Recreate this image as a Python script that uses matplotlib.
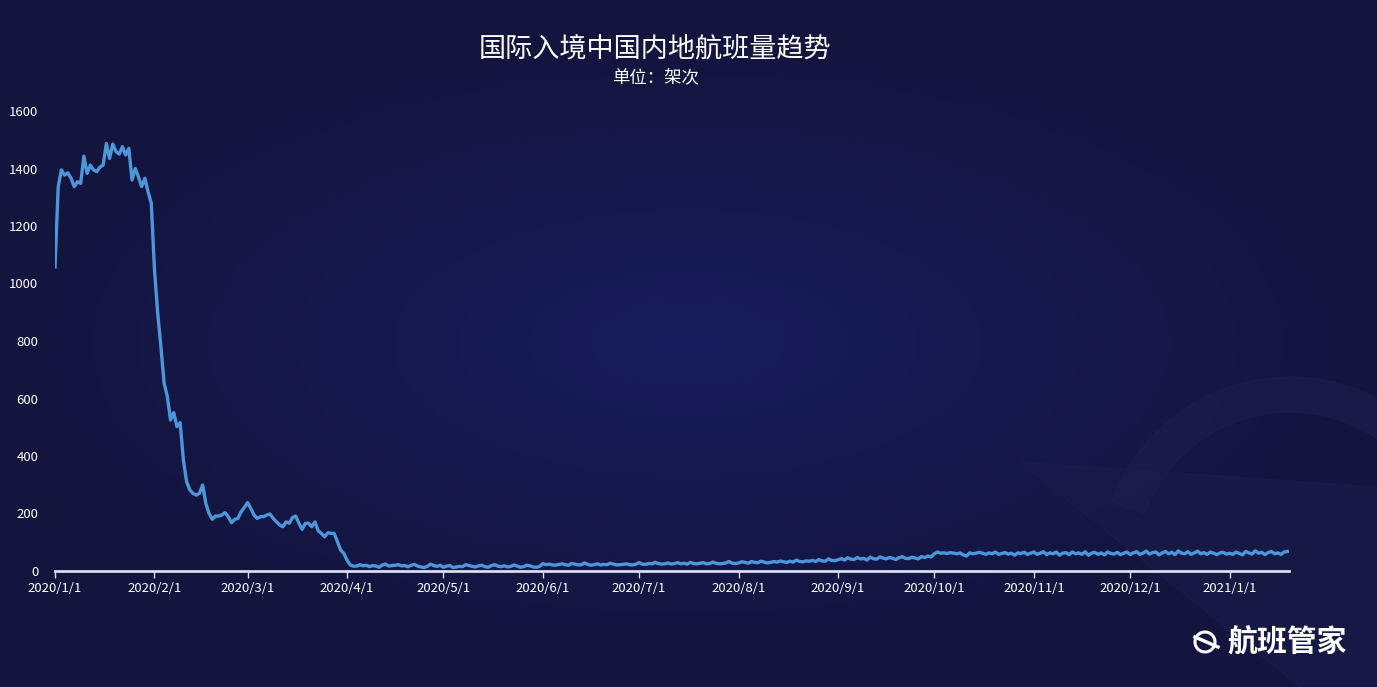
import matplotlib.pyplot as plt
import numpy as np
import pandas as pd
from matplotlib.patches import Circle, Wedge, Polygon

plt.rcParams['font.family'] = ['Noto Sans CJK SC', 'DejaVu Sans']

title = "国际入境中国内地航班量趋势"
subtitle = "单位：架次"

# daily flights, 2020/1/1 .. 2021/1/19
jan_mar = [1058, 1337, 1395, 1377, 1385, 1366, 1337, 1354, 1348, 1443,
           1383, 1412, 1395, 1389, 1405, 1412, 1487, 1435, 1485, 1459,
           1450, 1476, 1447, 1470, 1360, 1400, 1371, 1337, 1366, 1319,
           1279, 1047, 897, 780, 654, 606, 525, 551, 502, 516,
           386, 311, 282, 270, 264, 270, 299, 235, 200, 180,
           191, 191, 195, 203, 189, 168, 180, 183, 206, 221,
           238, 218, 195, 183, 189, 189, 195, 198, 183, 171,
           160, 154, 171, 166, 186, 191, 166, 145, 166, 166,
           154, 171, 140, 131, 119, 133, 131, 131, 102, 73, 61]
apr = [38, 21, 17, 17, 22, 18, 20, 15, 19, 17, 13, 21, 24, 17, 19,
       20, 22, 18, 19, 15, 20, 23, 17, 14, 12, 16, 24, 19, 16, 20]
may = [13, 17, 19, 12, 14, 16, 15, 22, 19, 16, 14, 18, 20, 15, 13, 19,
       22, 17, 15, 18, 14, 16, 21, 17, 13, 15, 20, 18, 14, 13, 16]
jun = [26, 22, 24, 21, 20, 23, 25, 22, 20, 26, 24, 21, 22, 28, 23,
       20, 22, 25, 21, 23, 22, 27, 24, 21, 22, 23, 25, 22, 21, 24]
jul = [29, 24, 23, 26, 25, 30, 26, 24, 25, 28, 24, 26, 29, 25, 27, 24,
       30, 26, 25, 27, 29, 25, 26, 31, 27, 25, 26, 28, 33, 27, 26]
aug = [28, 32, 30, 27, 33, 30, 29, 34, 31, 28, 30, 33, 31, 35, 32, 30,
       34, 31, 38, 33, 32, 35, 34, 37, 33, 40, 35, 34, 42, 37, 36]
sep = [39, 43, 38, 46, 41, 40, 47, 42, 44, 38, 48, 43, 41, 49, 45,
       42, 47, 44, 40, 46, 50, 44, 43, 48, 45, 42, 50, 47, 52, 49]
oct_ = [60, 66, 62, 63, 61, 64, 62, 60, 63, 56, 52, 63, 60, 62, 65, 62,
        58, 63, 60, 66, 58, 61, 64, 59, 62, 55, 63, 61, 65, 58, 62]
nov = [66, 58, 62, 67, 57, 63, 60, 66, 55, 62, 64, 57, 66, 60, 63,
       58, 67, 55, 62, 65, 58, 63, 56, 66, 61, 59, 65, 57, 62, 66]
dec = [57, 63, 67, 58, 62, 69, 59, 64, 66, 56, 63, 68, 60, 65, 57, 70,
       62, 60, 67, 58, 63, 69, 60, 64, 58, 66, 62, 57, 63, 65, 59]
jan21 = [62, 58, 66, 61, 56, 68, 63, 59, 70, 62, 65, 57, 64, 68, 60,
         63, 58, 66, 68]

flights = jan_mar + apr + may + jun + jul + aug + sep + oct_ + nov + dec + jan21
dates = pd.date_range("2020-01-01", periods=len(flights), freq="D")

month_ticks = pd.date_range("2020-01-01", "2021-01-01", freq="MS")
tick_labels = [f"{d.year}/{d.month}/1" for d in month_ticks]
y_ticks = [0, 200, 400, 600, 800, 1000, 1200, 1400, 1600]

fig = plt.figure(figsize=(13.77, 6.87), dpi=100)

# background radial gradient
bg = fig.add_axes([0, 0, 1, 1])
xx, yy = np.meshgrid(np.linspace(-1, 1, 400), np.linspace(-1, 1, 200))
r = np.clip(np.sqrt(xx ** 2 + (yy * 1.1) ** 2), 0, 1)
c_in = np.array([0x18, 0x1c, 0x5c]) / 255
c_out = np.array([0x13, 0x15, 0x3e]) / 255
img = c_in[None, None, :] * (1 - r[..., None]) + c_out[None, None, :] * r[..., None]
bg.imshow(img, extent=[0, 1377, 0, 687], aspect='auto')
# faint watermark
bg.add_patch(Wedge((1290, 120), 190, 15, 160, width=35, color='#1e2150', alpha=0.45))
bg.add_patch(Polygon([[1020, 225], [1377, 200], [1377, 0], [1300, 0]],
                     closed=True, color='#1e2150', alpha=0.35))
bg.set_xlim(0, 1377)
bg.set_ylim(0, 687)
bg.axis('off')

ax = fig.add_axes([55 / 1377, 116 / 687, 1234 / 1377, 460 / 687])
ax.set_facecolor('none')
ax.plot(dates, flights, color='#4d96d9', lw=2.4)

ax.set_xlim(pd.Timestamp("2020-01-01"), pd.Timestamp("2021-01-19 12:00"))
ax.set_ylim(0, 1600)
ax.set_xticks(month_ticks)
ax.set_xticklabels(tick_labels)
ax.set_yticks(y_ticks)
ax.tick_params(axis='x', colors='#d9dcea', labelcolor='white', labelsize=9.5,
               length=5, width=1, direction='out', pad=3)
ax.tick_params(axis='y', labelcolor='white', labelsize=9.5, length=0, pad=12)
for s in ['top', 'right', 'left']:
    ax.spines[s].set_visible(False)
ax.spines['bottom'].set_color('#d9dcea')
ax.spines['bottom'].set_linewidth(2)

fig.text(0.476, 0.927, title, color='white', fontsize=19.5, ha='center', va='center')
fig.text(0.476, 0.888, subtitle, color='white', fontsize=12.5, ha='center', va='center')

# logo
bg.add_patch(Circle((1205, 45), 10, fill=False, ec='white', lw=2.2))
bg.plot([1195, 1218], [50, 40], color='white', lw=2.5)
fig.text(1227 / 1377, 45 / 687, "航班管家", color='white', fontsize=21.5,
         fontweight='bold', ha='left', va='center')

fig.savefig("out.png", dpi=100, facecolor='#13153e')
